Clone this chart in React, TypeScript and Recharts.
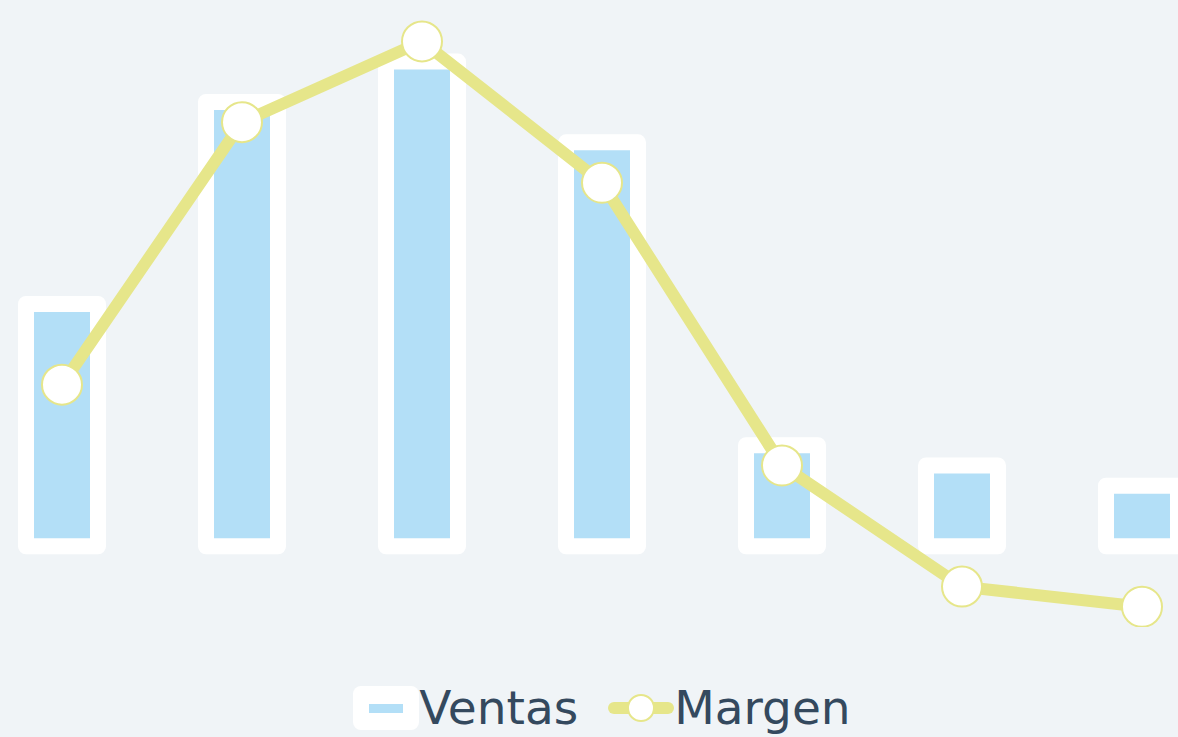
import React from 'react';
import { ComposedChart, Bar, Line, XAxis, YAxis, Legend } from 'recharts';

const categories = ['A', 'B', 'C', 'D', 'E', 'F', 'G'];
const ventas = [12, 22, 24, 20, 5, 4, 3];
const margen = [8, 21, 25, 18, 4, -2, -3];

const data = categories.map((name, i) => ({ name, Ventas: ventas[i], Margen: margen[i] }));

const BAR_FILL = '#b3dff7';
const LINE_COLOR = '#e6e68a';
const TEXT_COLOR = '#34495e';

const LegendContent = () => (
  <div
    style={{
      height: 110,
      display: 'flex',
      alignItems: 'flex-end',
      justifyContent: 'center',
      paddingBottom: 7,
      boxSizing: 'border-box',
      fontFamily: '"DejaVu Sans", sans-serif',
      fontSize: 47,
      color: TEXT_COLOR,
      lineHeight: '44px',
    }}
  >
    <div style={{ display: 'flex', alignItems: 'center', marginRight: 30 }}>
      <svg width={66} height={44}>
        <rect x={0} y={0} width={66} height={44} rx={8} fill="#ffffff" />
        <rect x={16} y={18} width={34} height={9} fill={BAR_FILL} />
      </svg>
      <span>Ventas</span>
    </div>
    <div style={{ display: 'flex', alignItems: 'center' }}>
      <svg width={66} height={44}>
        <line x1={6} y1={22} x2={60} y2={22} stroke={LINE_COLOR} strokeWidth={12} strokeLinecap="round" />
        <circle cx={33} cy={22} r={13} fill="#ffffff" stroke={LINE_COLOR} strokeWidth={2} />
      </svg>
      <span>Margen</span>
    </div>
  </div>
);

export default function App() {
  return (
    <div
      style={{
        position: 'fixed',
        left: 0,
        top: 0,
        width: 1178,
        height: 737,
        overflow: 'hidden',
        background: '#f0f4f7',
      }}
    >
      <div style={{ marginLeft: -28 }}>
        <ComposedChart width={1260} height={737} data={data} margin={{ top: 1, right: 0, bottom: 0, left: 0 }}>
          <XAxis dataKey="name" hide />
          <YAxis hide domain={[-4, 27]} allowDataOverflow />
          <Legend verticalAlign="bottom" content={<LegendContent />} />
          <Bar
            dataKey="Ventas"
            fill={BAR_FILL}
            stroke="#ffffff"
            strokeWidth={16}
            strokeLinejoin="round"
            barSize={72}
            isAnimationActive={false}
          />
          <Line
            dataKey="Margen"
            type="linear"
            stroke={LINE_COLOR}
            strokeWidth={12}
            dot={{ r: 20, fill: '#ffffff', stroke: LINE_COLOR, strokeWidth: 2 }}
            activeDot={false}
            isAnimationActive={false}
          />
        </ComposedChart>
      </div>
    </div>
  );
}
